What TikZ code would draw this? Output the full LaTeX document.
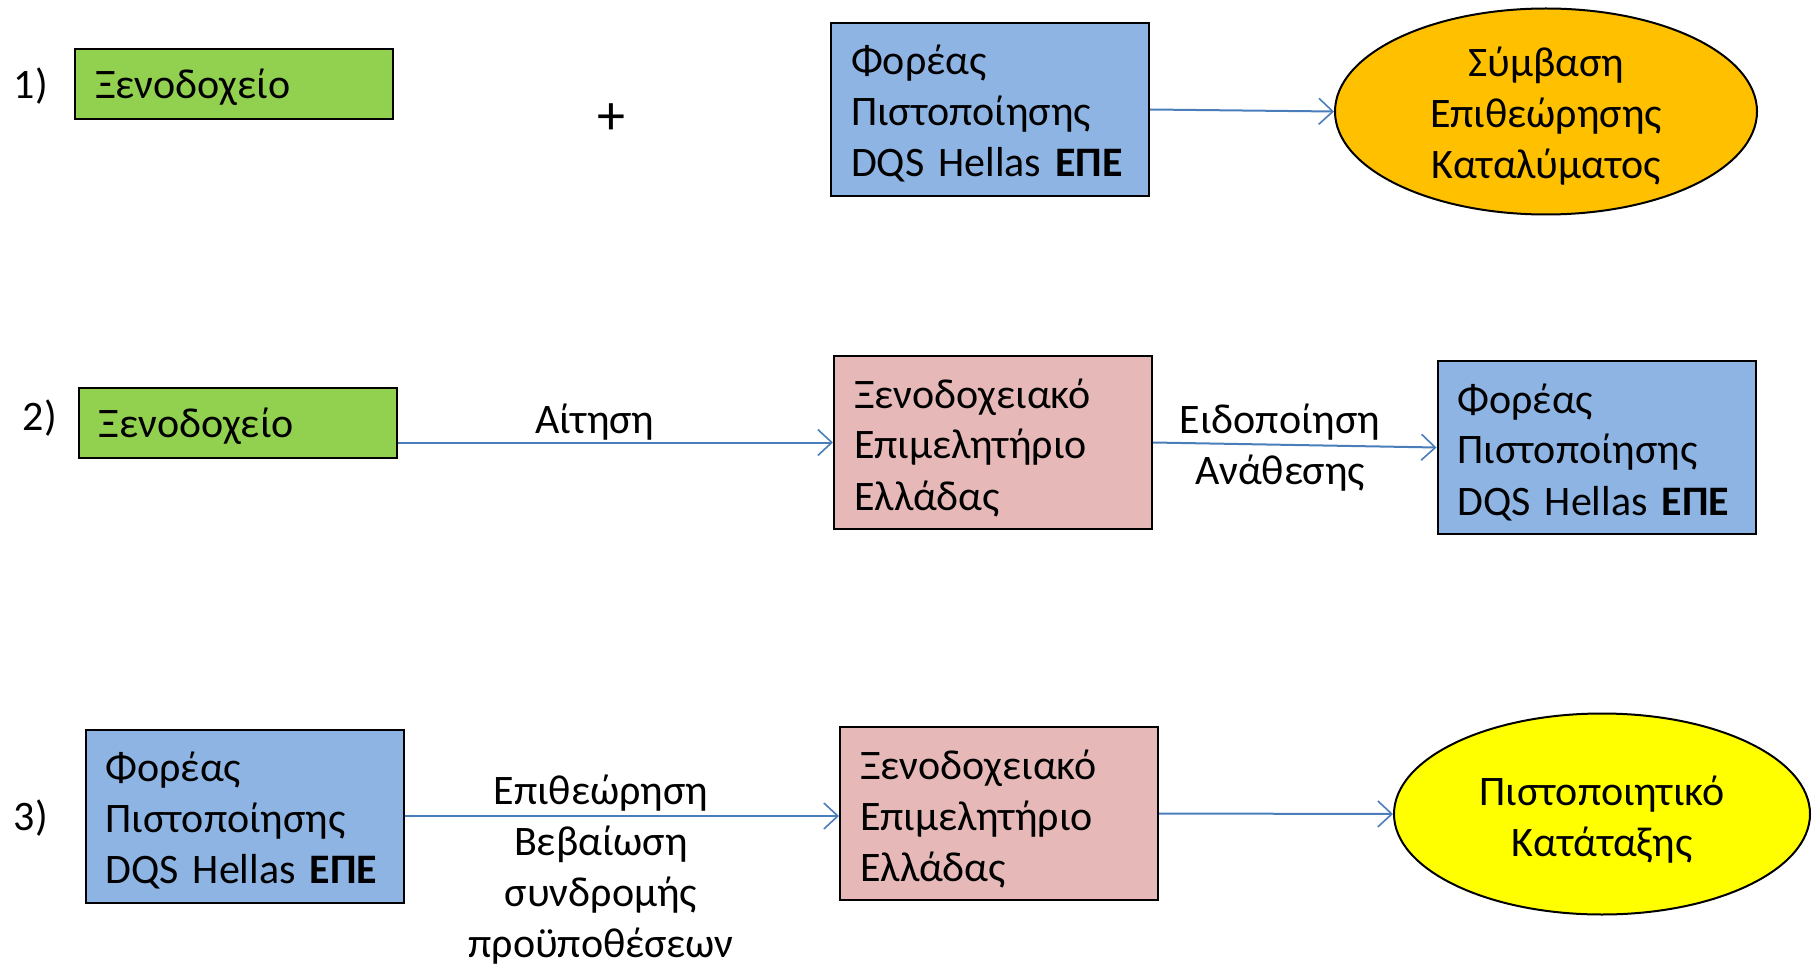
\documentclass[tikz,border=0pt]{standalone}
\usepackage{fontspec}
\setmainfont{Carlito}
\usetikzlibrary{shapes.geometric,arrows.meta}
\definecolor{cgreen}{HTML}{92D050}
\definecolor{cblue}{HTML}{8EB4E3}
\definecolor{cpink}{HTML}{E6B9B8}
\definecolor{corange}{HTML}{FFC000}
\definecolor{cyellow}{HTML}{FFFF00}
\definecolor{carrow}{HTML}{4A7EBB}
\begin{document}
\begin{tikzpicture}[x=1pt,y=-1pt,
  every node/.style={font=\fontsize{42}{51}\selectfont},
  oneline/.style={text height=32pt, text depth=3pt},
  twolines/.style={text height=34pt, text depth=52pt},
  threelines/.style={text height=34pt, text depth=103pt},
  fourlines/.style={text height=34pt, text depth=154pt},
  box/.style={draw=black, line width=2pt, minimum width=318pt, text width=278pt, inner xsep=20pt, inner ysep=0pt, align=left},
  shortbox/.style={box, oneline, minimum height=70pt},
  tallbox/.style={box, threelines, minimum height=173pt},
  oval/.style={ellipse, draw=black, line width=2pt, inner sep=0pt, text width=270pt, align=center},
  lbl/.style={text width=340pt, inner sep=0pt, align=center},
  arr/.style={draw=carrow, line width=2pt, -{Straight Barb[length=14pt,width=26pt,line width=1.6pt]}}]
\useasboundingbox (0,0) rectangle (1812,965);

% row 1
\node[oneline] (n1) at (31,84) {1)};
\node[shortbox, fill=cgreen] (g1) at (234,84.5) {Ξενοδοχείο};
\node[font=\fontsize{56}{60}\selectfont] (plus) at (611,119) {+};
\node[tallbox, fill=cblue] (b1) at (990,109.5) {Φορέας\\Πιστοποίησης\\DQS Hellas \textbf{ΕΠΕ}};
\node[oval, threelines, fill=corange, minimum width=422pt, minimum height=206pt] (e1) at (1546,111.5) {Σύμβαση\\Επιθεώρησης\\Καταλύματος};
\draw[arr] (b1.east) -- (e1.west);

% row 2
\node[oneline] (n2) at (40,416) {2)};
\node[shortbox, fill=cgreen] (g2) at (237.5,422.5) {Ξενοδοχείο};
\node[tallbox, fill=cpink] (p1) at (993,442.5) {Ξενοδοχειακό\\Επιμελητήριο\\Ελλάδας};
\node[tallbox, fill=cblue] (b2) at (1596.5,447.5) {Φορέας\\Πιστοποίησης\\DQS Hellas \textbf{ΕΠΕ}};
\draw[arr] (p1.west -| g2.east) -- (p1.west);
\draw[arr] (p1.east) -- (b2.west);
\node[lbl, oneline] (l1) at (595,419) {Αίτηση};
\node[lbl, twolines] (l2) at (1280,442) {Ειδοποίηση\\Ανάθεσης};

% row 3
\node[oneline] (n3) at (31,816) {3)};
\node[tallbox, fill=cblue] (b3) at (244.5,816) {Φορέας\\Πιστοποίησης\\DQS Hellas \textbf{ΕΠΕ}};
\node[tallbox, fill=cpink] (p2) at (999,813.5) {Ξενοδοχειακό\\Επιμελητήριο\\Ελλάδας};
\node[oval, twolines, fill=cyellow, minimum width=416pt, minimum height=201pt] (e2) at (1602,814) {Πιστοποιητικό\\Κατάταξης};
\draw[arr] (b3.east) -- (b3.east -| p2.west);
\draw[arr] (p2.east) -- (e2.west);
\node[lbl, fourlines] (l3) at (601,864) {Επιθεώρηση\\Βεβαίωση\\συνδρομής\\προϋποθέσεων};
\end{tikzpicture}
\end{document}
